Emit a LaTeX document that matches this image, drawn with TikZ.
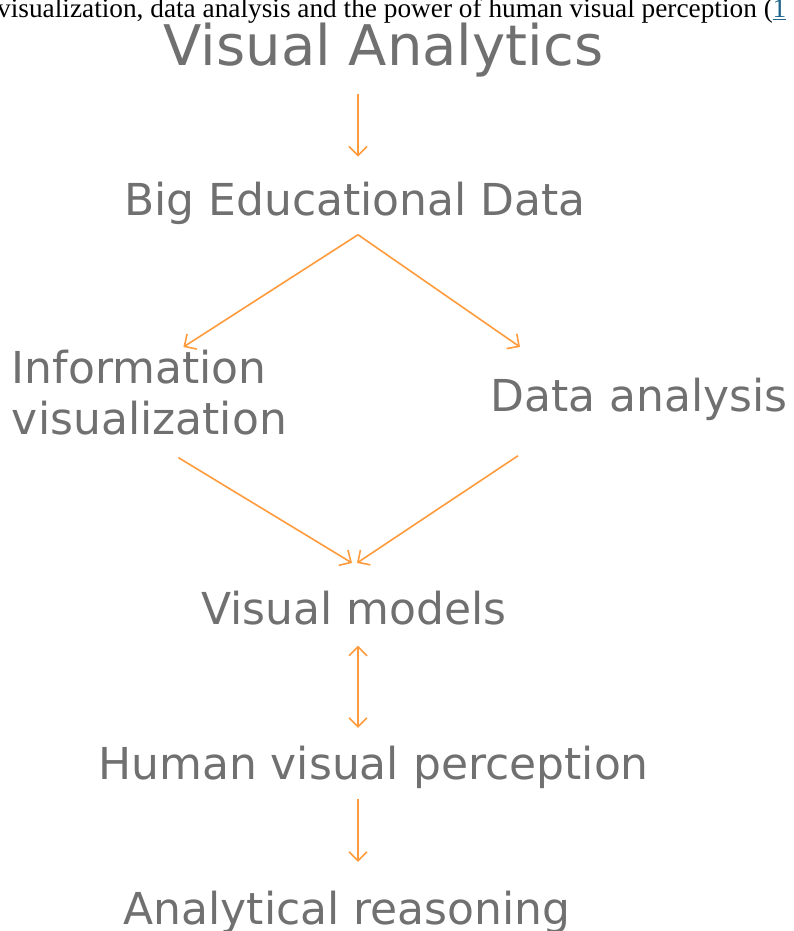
\documentclass[tikz,border=0pt]{standalone}
\usepackage{fontspec}
\setmainfont{DejaVu Sans}
\newfontfamily\capfont{Liberation Serif}
\usetikzlibrary{arrows.meta,calc}
\definecolor{txtgray}{RGB}{112,112,112}
\definecolor{arrorange}{RGB}{255,155,60}
\definecolor{linkblue}{RGB}{30,100,140}
\begin{document}
\begin{tikzpicture}[x=1pt,y=1pt,
  lbl/.style={inner sep=0pt, outer sep=0pt, text=txtgray, font=\fontsize{44}{51}\selectfont},
  arr/.style={draw=arrorange, line width=1.6pt, -{Straight Barb[length=9pt,width=18pt,line width=1.6pt]}},
  darr/.style={draw=arrorange, line width=1.6pt, {Straight Barb[length=9pt,width=18pt,line width=1.6pt]}-{Straight Barb[length=9pt,width=18pt,line width=1.6pt]}}]
\useasboundingbox (0,0) rectangle (794,931);
\node[inner sep=0pt, anchor=base west, font=\capfont\fontsize{27.3}{31}\selectfont] (cap) at (-3,913.5)
  {visualization, data analysis and the power of human visual perception (\textcolor{linkblue}{\underline{1}}};
\node[lbl, anchor=base, font=\fontsize{56}{64}\selectfont] (title) at (383.5,865) {Visual Analytics};
\node[lbl, anchor=base] (big) at (355,715) {Big Educational Data};
\node[lbl, anchor=north west, align=left] (info) at (12,581.4) {Information\\visualization};
\node[lbl, anchor=base] (data) at (639,519) {Data analysis};
\node[lbl, anchor=base] (vm) at (354,306) {Visual models};
\node[lbl, anchor=base] (human) at (373.5,151) {Human visual perception};
\node[lbl, anchor=base] (anal) at (347,6) {Analytical reasoning};
\draw[arr] ($(title.south -| big.north)+(3,-16)$) -- ($(big.north)+(3,26)$);
\draw[arr] ($(big.south)+(3,-9.6)$) -- ($(info.north)+(34,2.6)$);
\draw[arr] ($(big.south)+(3,-9.6)$) -- ($(data.north)+(-119,31.6)$);
\draw[arr] ($(info.south)+(29,-23)$) -- ($(vm.north)+(-2,28.6)$);
\draw[arr] ($(data.south)+(-121,-34.6)$) -- ($(vm.north)+(3,28.6)$);
\draw[darr] ($(vm.south)+(4,-20)$) -- ($(human.north)+(-15.5,18.6)$);
\draw[arr] ($(human.south)+(-15.5,-9.6)$) -- ($(anal.north)+(11,29.6)$);
\end{tikzpicture}
\end{document}
